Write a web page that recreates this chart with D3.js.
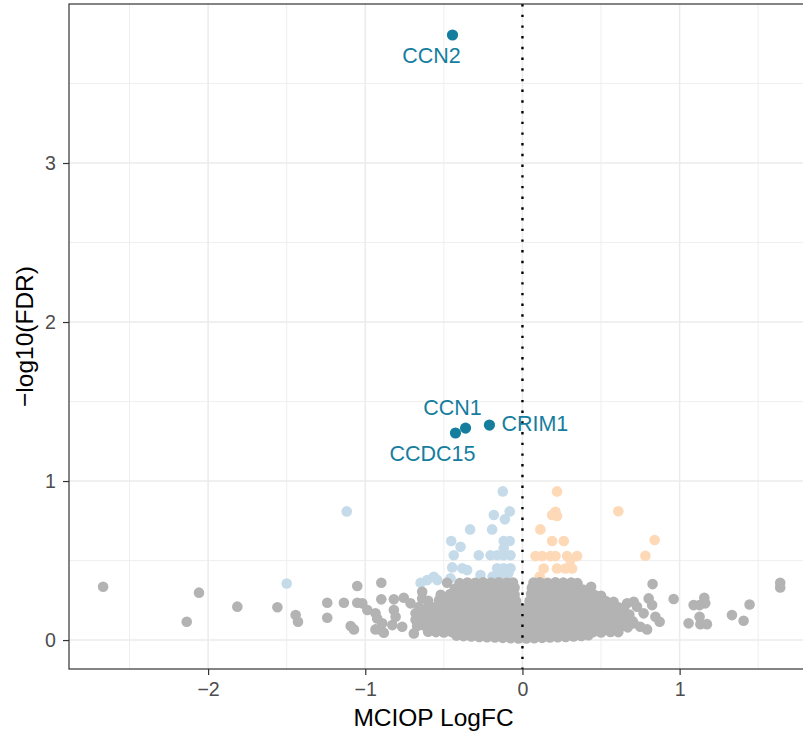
<!DOCTYPE html>
<html>
<head>
<meta charset="utf-8">
<script src="https://cdn.jsdelivr.net/npm/d3@7"></script>
<style>
  html, body { margin: 0; padding: 0; background: #fff; }
  svg { display: block; font-family: "Liberation Sans", Arial, Helvetica, sans-serif; }
</style>
</head>
<body>
<svg id="chart" width="803" height="735"></svg>
<script>
// Volcano plot: MCIOP logFC vs -log10(FDR).
// Values, one [logFC, -log10 FDR] pair per gene.

// labelled, significant genes
const sigGenes = ["CCN2", "CCN1", "CCDC15", "CRIM1"];
const sigLogFC = [-0.445, -0.362, -0.426, -0.21];
const sigNegLogFDR = [3.805, 1.333, 1.302, 1.352];

// down-regulated, not significant (light blue)
const downGenes = [
  [-1.118, 0.809], [-1.50, 0.356], [-0.125, 0.935], [-0.182, 0.786], [-0.081, 0.809],
  [-0.112, 0.759], [-0.333, 0.696], [-0.193, 0.696], [-0.453, 0.623], [-0.394, 0.587],
  [-0.119, 0.623], [-0.081, 0.623], [-0.119, 0.577], [-0.437, 0.533], [-0.278, 0.533],
  [-0.203, 0.533], [-0.161, 0.533], [-0.119, 0.533], [-0.076, 0.533], [-0.447, 0.457],
  [-0.383, 0.451], [-0.352, 0.44], [-0.267, 0.409], [-0.161, 0.451], [-0.119, 0.451],
  [-0.076, 0.451], [-0.150, 0.42], [-0.09, 0.42], [-0.648, 0.36], [-0.606, 0.377],
  [-0.564, 0.398], [-0.542, 0.377], [-0.458, 0.388], [-0.11, 0.40], [-0.19, 0.40]
];

// up-regulated, not significant (light orange)
const upGenes = [
  [0.22, 0.935], [0.21, 0.807], [0.189, 0.786], [0.22, 0.78], [0.114, 0.696],
  [0.189, 0.623], [0.263, 0.623], [0.083, 0.528], [0.125, 0.528], [0.178, 0.528],
  [0.21, 0.528], [0.284, 0.528], [0.348, 0.528], [0.135, 0.45], [0.22, 0.45],
  [0.273, 0.45], [0.316, 0.45], [0.305, 0.503], [0.61, 0.81], [0.841, 0.629],
  [0.782, 0.53], [0.11, 0.40]
];

// unchanged genes, scattered outliers (grey)
const otherGenes = [
  [-2.668, 0.335], [-2.058, 0.298], [-2.136, 0.115], [-1.814, 0.21], [-1.559, 0.206],
  [-1.443, 0.157], [-1.428, 0.115], [-1.242, 0.235], [-1.242, 0.14], [-1.136, 0.235],
  [-1.051, 0.34], [-1.093, 0.088], [-1.072, 0.067], [-1.051, 0.235], [-1.019, 0.231],
  [-0.987, 0.189], [-0.935, 0.168], [-0.924, 0.136], [-0.892, 0.105], [-0.935, 0.067],
  [-0.882, 0.046], [-0.898, 0.36], [-0.898, 0.256], [-0.818, 0.256], [-0.755, 0.266],
  [-0.818, 0.189], [-0.807, 0.147], [-0.828, 0.094], [-0.765, 0.084], [-0.691, 0.042],
  [-0.712, 0.231], [-0.638, 0.304], [-0.638, 0.262], [-0.479, 0.36], [-0.394, 0.346],
  [-0.90, 0.063],
  [0.437, 0.335], [0.828, 0.352], [0.803, 0.262], [0.825, 0.22], [0.962, 0.258],
  [0.846, 0.147], [0.873, 0.115], [0.793, 0.067], [1.157, 0.266], [1.163, 0.231],
  [1.089, 0.22], [1.127, 0.22], [1.127, 0.147], [1.132, 0.10], [1.174, 0.10],
  [1.057, 0.105], [1.333, 0.157], [1.407, 0.121], [1.445, 0.224], [1.64, 0.36],
  [1.64, 0.331], [0.666, 0.231], [0.708, 0.241], [0.729, 0.21], [0.771, 0.168],
  [0.708, 0.105], [0.75, 0.084], [0.538, 0.21], [0.58, 0.168]
];

// unchanged genes, dense core around logFC 0 (grey)
const coreGenes = [
  [-0.40, 0.358], [-0.35, 0.362], [-0.30, 0.360], [-0.25, 0.363], [-0.20, 0.361], [-0.15, 0.364], [-0.10, 0.360], [-0.06, 0.362],
  [0.07, 0.361], [0.11, 0.364], [0.16, 0.360], [0.21, 0.363], [0.26, 0.361], [0.31, 0.362], [0.35, 0.358],
  [-0.43, 0.322], [-0.375, 0.326], [-0.325, 0.324], [-0.275, 0.327], [-0.225, 0.325], [-0.175, 0.323], [-0.125, 0.326], [-0.085, 0.324], [-0.05, 0.33],
  [0.06, 0.328], [0.09, 0.324], [0.135, 0.326], [0.185, 0.323], [0.235, 0.327], [0.285, 0.325], [0.335, 0.322], [0.385, 0.318], [0.42, 0.31],
  [-0.52, 0.285], [-0.46, 0.29], [-0.40, 0.288], [-0.35, 0.292], [-0.30, 0.289], [-0.25, 0.291], [-0.20, 0.288], [-0.15, 0.292], [-0.10, 0.29], [-0.05, 0.287],
  [0.055, 0.289], [0.10, 0.291], [0.15, 0.288], [0.20, 0.292], [0.25, 0.29], [0.30, 0.288], [0.35, 0.291], [0.40, 0.287], [0.46, 0.283], [0.50, 0.278],
  [-0.60, 0.247], [-0.53, 0.252], [-0.475, 0.25], [-0.425, 0.248], [-0.375, 0.253], [-0.325, 0.25], [-0.275, 0.248], [-0.225, 0.252], [-0.175, 0.25], [-0.125, 0.249], [-0.075, 0.252], [-0.04, 0.245],
  [0.045, 0.246], [0.075, 0.251], [0.125, 0.249], [0.175, 0.252], [0.225, 0.25], [0.275, 0.248], [0.325, 0.252], [0.375, 0.25], [0.425, 0.247], [0.475, 0.251], [0.53, 0.246], [0.58, 0.24],
  [-0.66, 0.207], [-0.60, 0.212], [-0.55, 0.209], [-0.50, 0.211], [-0.45, 0.208], [-0.40, 0.212], [-0.35, 0.21], [-0.30, 0.208], [-0.25, 0.211], [-0.20, 0.209], [-0.15, 0.212], [-0.10, 0.21], [-0.05, 0.208], [-0.022, 0.2],
  [0.025, 0.2], [0.05, 0.209], [0.10, 0.211], [0.15, 0.208], [0.20, 0.212], [0.25, 0.21], [0.30, 0.208], [0.35, 0.211], [0.40, 0.209], [0.45, 0.212], [0.50, 0.208], [0.55, 0.21], [0.61, 0.206], [0.645, 0.2],
  [-0.68, 0.168], [-0.625, 0.172], [-0.575, 0.17], [-0.525, 0.168], [-0.475, 0.172], [-0.425, 0.169], [-0.375, 0.171], [-0.325, 0.168], [-0.275, 0.172], [-0.225, 0.17], [-0.175, 0.168], [-0.125, 0.171], [-0.075, 0.169], [-0.025, 0.17],
  [0.025, 0.168], [0.075, 0.171], [0.125, 0.169], [0.175, 0.172], [0.225, 0.17], [0.275, 0.168], [0.325, 0.171], [0.375, 0.169], [0.425, 0.172], [0.475, 0.17], [0.525, 0.168], [0.575, 0.171], [0.625, 0.166], [0.68, 0.16],
  [-0.68, 0.128], [-0.64, 0.133], [-0.60, 0.13], [-0.55, 0.128], [-0.50, 0.132], [-0.45, 0.13], [-0.40, 0.128], [-0.35, 0.131], [-0.30, 0.129], [-0.25, 0.132], [-0.20, 0.13], [-0.15, 0.128], [-0.10, 0.131], [-0.05, 0.129], [0.00, 0.13],
  [0.05, 0.128], [0.10, 0.131], [0.15, 0.129], [0.20, 0.132], [0.25, 0.13], [0.30, 0.128], [0.35, 0.131], [0.40, 0.129], [0.45, 0.132], [0.50, 0.13], [0.55, 0.128], [0.60, 0.131], [0.65, 0.127], [0.70, 0.12],
  [-0.67, 0.088], [-0.625, 0.092], [-0.575, 0.09], [-0.525, 0.088], [-0.475, 0.091], [-0.425, 0.089], [-0.375, 0.092], [-0.325, 0.09], [-0.275, 0.088], [-0.225, 0.091], [-0.175, 0.089], [-0.125, 0.092], [-0.075, 0.09], [-0.025, 0.088],
  [0.025, 0.091], [0.075, 0.089], [0.125, 0.092], [0.175, 0.09], [0.225, 0.088], [0.275, 0.091], [0.325, 0.089], [0.375, 0.092], [0.425, 0.09], [0.475, 0.088], [0.525, 0.091], [0.575, 0.089], [0.625, 0.086], [0.67, 0.08],
  [-0.60, 0.052], [-0.55, 0.05], [-0.50, 0.048], [-0.45, 0.051], [-0.40, 0.049], [-0.35, 0.047], [-0.30, 0.05], [-0.25, 0.046], [-0.20, 0.045], [-0.15, 0.048], [-0.10, 0.044], [-0.05, 0.046], [0.00, 0.043],
  [0.05, 0.046], [0.10, 0.044], [0.15, 0.047], [0.20, 0.045], [0.25, 0.048], [0.30, 0.046], [0.35, 0.049], [0.40, 0.047], [0.45, 0.05], [0.50, 0.048], [0.56, 0.051], [0.61, 0.05],
  [-0.42, 0.028], [-0.375, 0.025], [-0.325, 0.022], [-0.275, 0.02], [-0.225, 0.018], [-0.175, 0.016], [-0.125, 0.014], [-0.075, 0.012], [-0.025, 0.01],
  [0.025, 0.01], [0.075, 0.012], [0.125, 0.014], [0.175, 0.016], [0.225, 0.018], [0.275, 0.02], [0.325, 0.023], [0.375, 0.026], [0.42, 0.03]
];

const xTicks = [-2, -1, 0, 1];
const yTicks = [0, 1, 2, 3];
const xMinor = [-2.5, -1.5, -0.5, 0.5, 1.5];
const yMinor = [0.5, 1.5, 2.5, 3.5];

const COL_SIG = "#157e9e";
const COL_DOWN = "#c6dbea";
const COL_UP = "#fdd9b8";
const COL_NS = "#b3b3b3";

// panel runs past the right edge of the window, as in the reference
const panel = { left: 69, top: 4, right: 814, bottom: 669 };

const svg = d3.select("#chart");
svg.append("rect").attr("width", 803).attr("height", 735).attr("fill", "#fff");

const x = d3.scaleLinear().domain([-2.885, 1.855]).range([panel.left, panel.right]);
const y = d3.scaleLinear().domain([-0.182, 4.0]).range([panel.bottom, panel.top]);

const grid = svg.append("g");
grid.selectAll(".xmin").data(xMinor).join("line")
  .attr("x1", d => x(d)).attr("x2", d => x(d))
  .attr("y1", panel.top).attr("y2", panel.bottom)
  .attr("stroke", "#ebebeb").attr("stroke-width", 0.8);
grid.selectAll(".ymin").data(yMinor).join("line")
  .attr("y1", d => y(d)).attr("y2", d => y(d))
  .attr("x1", panel.left).attr("x2", panel.right)
  .attr("stroke", "#ebebeb").attr("stroke-width", 0.8);
grid.selectAll(".xmaj").data(xTicks).join("line")
  .attr("x1", d => x(d)).attr("x2", d => x(d))
  .attr("y1", panel.top).attr("y2", panel.bottom)
  .attr("stroke", "#ebebeb").attr("stroke-width", 1.5);
grid.selectAll(".ymaj").data(yTicks).join("line")
  .attr("y1", d => y(d)).attr("y2", d => y(d))
  .attr("x1", panel.left).attr("x2", panel.right)
  .attr("stroke", "#ebebeb").attr("stroke-width", 1.5);

const R = 5.3;
const pts = svg.append("g");
function dots(data, color) {
  pts.append("g").selectAll("circle").data(data).join("circle")
    .attr("cx", d => x(d[0])).attr("cy", d => y(d[1]))
    .attr("r", R).attr("fill", color);
}
dots(downGenes, COL_DOWN);
dots(upGenes, COL_UP);
dots(otherGenes, COL_NS);
dots(coreGenes, COL_NS);

const sig = sigGenes.map((g, i) => ({ gene: g, fc: sigLogFC[i], p: sigNegLogFDR[i] }));
pts.append("g").selectAll("circle").data(sig).join("circle")
  .attr("cx", d => x(d.fc)).attr("cy", d => y(d.p))
  .attr("r", 5.6).attr("fill", COL_SIG);

// dotted zero line, drawn over the points
svg.append("line")
  .attr("x1", x(0)).attr("x2", x(0))
  .attr("y1", panel.top).attr("y2", panel.bottom)
  .attr("stroke", "#000").attr("stroke-width", 2.4)
  .attr("stroke-dasharray", "2.4,8.3");

// repelled labels: pixel offsets from their point
const labelOffset = {
  CCN2: [-21, 28, "middle"],
  CCN1: [-13, -13, "middle"],
  CCDC15: [-23, 28, "middle"],
  CRIM1: [12, 6, "start"]
};
svg.append("g").selectAll("text").data(sig).join("text")
  .attr("x", d => x(d.fc) + labelOffset[d.gene][0])
  .attr("y", d => y(d.p) + labelOffset[d.gene][1])
  .attr("text-anchor", d => labelOffset[d.gene][2])
  .attr("font-size", 21.5)
  .attr("fill", COL_SIG)
  .text(d => d.gene);

// panel border
svg.append("rect")
  .attr("x", panel.left).attr("y", panel.top)
  .attr("width", panel.right - panel.left).attr("height", panel.bottom - panel.top)
  .attr("fill", "none").attr("stroke", "#333").attr("stroke-width", 1.2);

// axes
const fmt = d3.format("d");
const xAxis = svg.append("g")
  .attr("transform", `translate(0,${panel.bottom})`)
  .call(d3.axisBottom(x).tickValues(xTicks).tickFormat(fmt).tickSize(6).tickPadding(7));
const yAxis = svg.append("g")
  .attr("transform", `translate(${panel.left},0)`)
  .call(d3.axisLeft(y).tickValues(yTicks).tickFormat(fmt).tickSize(6).tickPadding(7));
[xAxis, yAxis].forEach(a => {
  a.select(".domain").remove();
  a.selectAll(".tick line").attr("stroke", "#333").attr("stroke-width", 1.2);
  a.selectAll(".tick text")
    .attr("fill", "#4d4d4d")
    .attr("font-size", 19.6)
    .attr("font-family", "Liberation Sans, Arial, Helvetica, sans-serif");
});

svg.append("text")
  .attr("x", (panel.left + 803 + 11) / 2 - 8).attr("y", 726)
  .attr("text-anchor", "middle")
  .attr("font-size", 24.5).attr("fill", "#000")
  .text("MCIOP LogFC");

svg.append("text")
  .attr("transform", `translate(33,${(panel.top + panel.bottom) / 2}) rotate(-90)`)
  .attr("text-anchor", "middle")
  .attr("font-size", 24.5).attr("fill", "#000")
  .text("\u2212log10(FDR)");
</script>
</body>
</html>
